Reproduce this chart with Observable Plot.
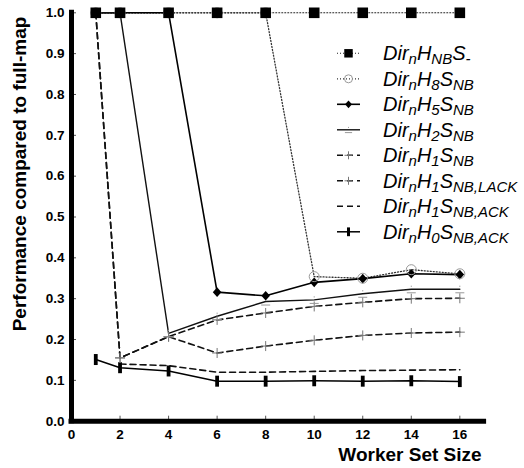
<!DOCTYPE html>
<html>
<head>
<meta charset="utf-8">
<script src="https://cdn.jsdelivr.net/npm/d3@7"></script>
<script src="https://cdn.jsdelivr.net/npm/@observablehq/plot@0.6"></script>
<style>
  html, body { margin: 0; padding: 0; background: #fff; }
</style>
</head>
<body>
<div id="chart"></div>
<script>
// ---- data ----
const workerSetSize = [1, 2, 4, 6, 8, 10, 12, 14, 16];
const xTicks = [0, 2, 4, 6, 8, 10, 12, 14, 16];
const yTicks = [0, 0.1, 0.2, 0.3, 0.4, 0.5, 0.6, 0.7, 0.8, 0.9, 1.0];

const hNB    = [1, 1, 1, 1, 1, 1, 1, 1, 1];
const h8     = [1, 1, 1, 1, 1, 0.354, 0.350, 0.371, 0.361];
const h5     = [1, 1, 1, 0.316, 0.307, 0.340, 0.349, 0.361, 0.359];
const h2     = [1, 1, 0.215, 0.257, 0.293, 0.297, 0.312, 0.323, 0.323];
const h1     = [1, 0.155, 0.207, 0.248, 0.265, 0.281, 0.291, 0.300, 0.301];
const h1lack = [1, 0.155, 0.207, 0.167, 0.184, 0.198, 0.210, 0.216, 0.218];
const h1ack  = [null, 0.140, 0.136, 0.120, 0.120, 0.122, 0.124, 0.125, 0.126];
const h0     = [0.151, 0.131, 0.123, 0.098, 0.098, 0.099, 0.098, 0.099, 0.097];

// legend label parts: [main, sub] pairs
const legendLabels = [
  [["Dir","n"],["H","NB"],["S","-"]],
  [["Dir","n"],["H","8"],["S","NB"]],
  [["Dir","n"],["H","5"],["S","NB"]],
  [["Dir","n"],["H","2"],["S","NB"]],
  [["Dir","n"],["H","1"],["S","NB"]],
  [["Dir","n"],["H","1"],["S","NB,LACK"]],
  [["Dir","n"],["H","1"],["S","NB,ACK"]],
  [["Dir","n"],["H","0"],["S","NB,ACK"]]
];

// ---- custom marker shapes ----
const sym = {
  square: {draw(c){ c.rect(-5.3,-5.3,10.6,10.6); }},
  circle: {draw(c){ c.moveTo(5,0); c.arc(0,0,5,0,2*Math.PI); c.closePath(); }},
  diamond:{draw(c){ c.moveTo(0,-4.8); c.lineTo(4.3,0); c.lineTo(0,4.8); c.lineTo(-4.3,0); c.closePath(); }},
  dash:   {draw(c){ c.moveTo(-4.5,3.5); c.lineTo(4.5,3.5); c.moveTo(0,-3.6); c.lineTo(0,-2.4); }},
  plus:   {draw(c){ c.moveTo(-5,0); c.lineTo(5,0); c.moveTo(0,-5); c.lineTo(0,5); }},
  none:   null,
  vbar:   {draw(c){ c.rect(-1.9,-5.5,3.8,11); }}
};

const series = [
  {vals: hNB,    stroke:"#222", w:1.1, dash:"1,2",   sym:"square",  fill:"#000", mstroke:"none", mw:0},
  {vals: h8,     stroke:"#333", w:1.3, dash:"1,2",   sym:"circle",  fill:"none", mstroke:"#999", mw:1},
  {vals: h5,     stroke:"#000", w:1.6, dash:null,    sym:"diamond", fill:"#000", mstroke:"none", mw:0},
  {vals: h2,     stroke:"#111", w:1.4, dash:null,    sym:"dash",    fill:"none", mstroke:"#999", mw:1},
  {vals: h1,     stroke:"#111", w:1.6, dash:"6,4",   sym:"plus",    fill:"none", mstroke:"#777", mw:1},
  {vals: h1lack, stroke:"#111", w:1.6, dash:"6,4",   sym:"plus",    fill:"none", mstroke:"#777", mw:1},
  {vals: h1ack,  stroke:"#111", w:1.6, dash:"6,4",   sym:"none",    fill:"none", mstroke:"none", mw:0},
  {vals: h0,     stroke:"#000", w:1.5, dash:null,    sym:"vbar",    fill:"#000", mstroke:"none", mw:0}
];

const toData = vals => workerSetSize.map((x,i)=>({x, y: vals[i]})).filter(d => d.y != null);

const lineMarks = series.map(s => Plot.line(toData(s.vals), {
  x: "x", y: "y", stroke: s.stroke, strokeWidth: s.w,
  strokeDasharray: s.dash, curve: "linear"
}));
const dotMarks = series.filter(s => sym[s.sym]).map(s => Plot.dot(toData(s.vals), {
  x: "x", y: "y", r: 3, symbol: sym[s.sym], fill: s.fill,
  stroke: s.mstroke, strokeWidth: s.mw
})).reverse();

const W = 524, H = 468;
const chart = Plot.plot({
  width: W, height: H,
  marginLeft: 71, marginRight: 40.4, marginTop: 12.3, marginBottom: 47.3,
  x: {domain: [0, 17]},
  y: {domain: [0, 1]},
  style: {fontFamily: "'Liberation Sans', Arial, sans-serif", fontSize: "13.5px", fontWeight: "bold", color: "#000", background: "#fff"},
  marks: [
    // inward tick marks
    Plot.axisX({ticks: xTicks, tickSize: 5, dy: -5, text: null, label: null, stroke: "#555"}),
    Plot.axisY({ticks: yTicks, tickSize: 5, dx: 5, text: null, label: null, stroke: "#555"}),
    // tick labels
    Plot.axisX({ticks: xTicks, tickSize: 0, tickPadding: 8.5, tickFormat: d => String(d), label: null}),
    Plot.axisY({ticks: yTicks, tickSize: 0, tickPadding: 7, tickFormat: d3.format(".1f"), label: null}),
    ...lineMarks,
    ...dotMarks,
    // thick axis lines
    Plot.ruleY([0], {x1: 0, x2: 17, stroke: "#000", strokeWidth: 5, strokeLinecap: "square"}),
    Plot.ruleX([0], {y1: 0, y2: 1, stroke: "#000", strokeWidth: 5, strokeLinecap: "square"})
  ]
});

document.getElementById("chart").appendChild(chart);

// ---- axis titles ----
const svg = d3.select(chart);
svg.append("text")
  .attr("transform", "translate(26,174) rotate(-90)")
  .attr("text-anchor", "middle")
  .style("font-size", "19px").style("font-weight", "bold")
  .text("Performance compared to full-map");
svg.append("text")
  .attr("x", 410).attr("y", 461)
  .attr("text-anchor", "middle")
  .style("font-size", "19px").style("font-weight", "bold")
  .text("Worker Set Size");

// ---- legend ----
const lg = svg.append("g");
const row0 = 53.3, rowStep = 25.5;
series.forEach((s, i) => {
  const cy = row0 + i * rowStep;
  lg.append("line").attr("x1", 337).attr("x2", 360).attr("y1", cy).attr("y2", cy)
    .attr("stroke", s.stroke).attr("stroke-width", s.w)
    .attr("stroke-dasharray", s.dash);
  if (sym[s.sym]) {
    const p = d3.path(); sym[s.sym].draw(p);
    lg.append("path").attr("d", p.toString()).attr("transform", `translate(348.5,${cy}) scale(0.8)`)
      .attr("fill", s.fill).attr("stroke", s.mstroke).attr("stroke-width", s.mw / 0.8);
  }
  const t = lg.append("text").attr("x", 383).attr("y", cy + 6.7)
    .attr("text-anchor", "start")
    .style("font-style", "italic").style("font-weight", "normal").style("font-size", "20px");
  legendLabels[i].forEach(([main, sub], j) => {
    t.append("tspan").text(main).attr("dy", j === 0 ? 0 : -4);
    t.append("tspan").text(sub).style("font-size", "15px").attr("dy", 4);
  });
});
</script>
</body>
</html>
